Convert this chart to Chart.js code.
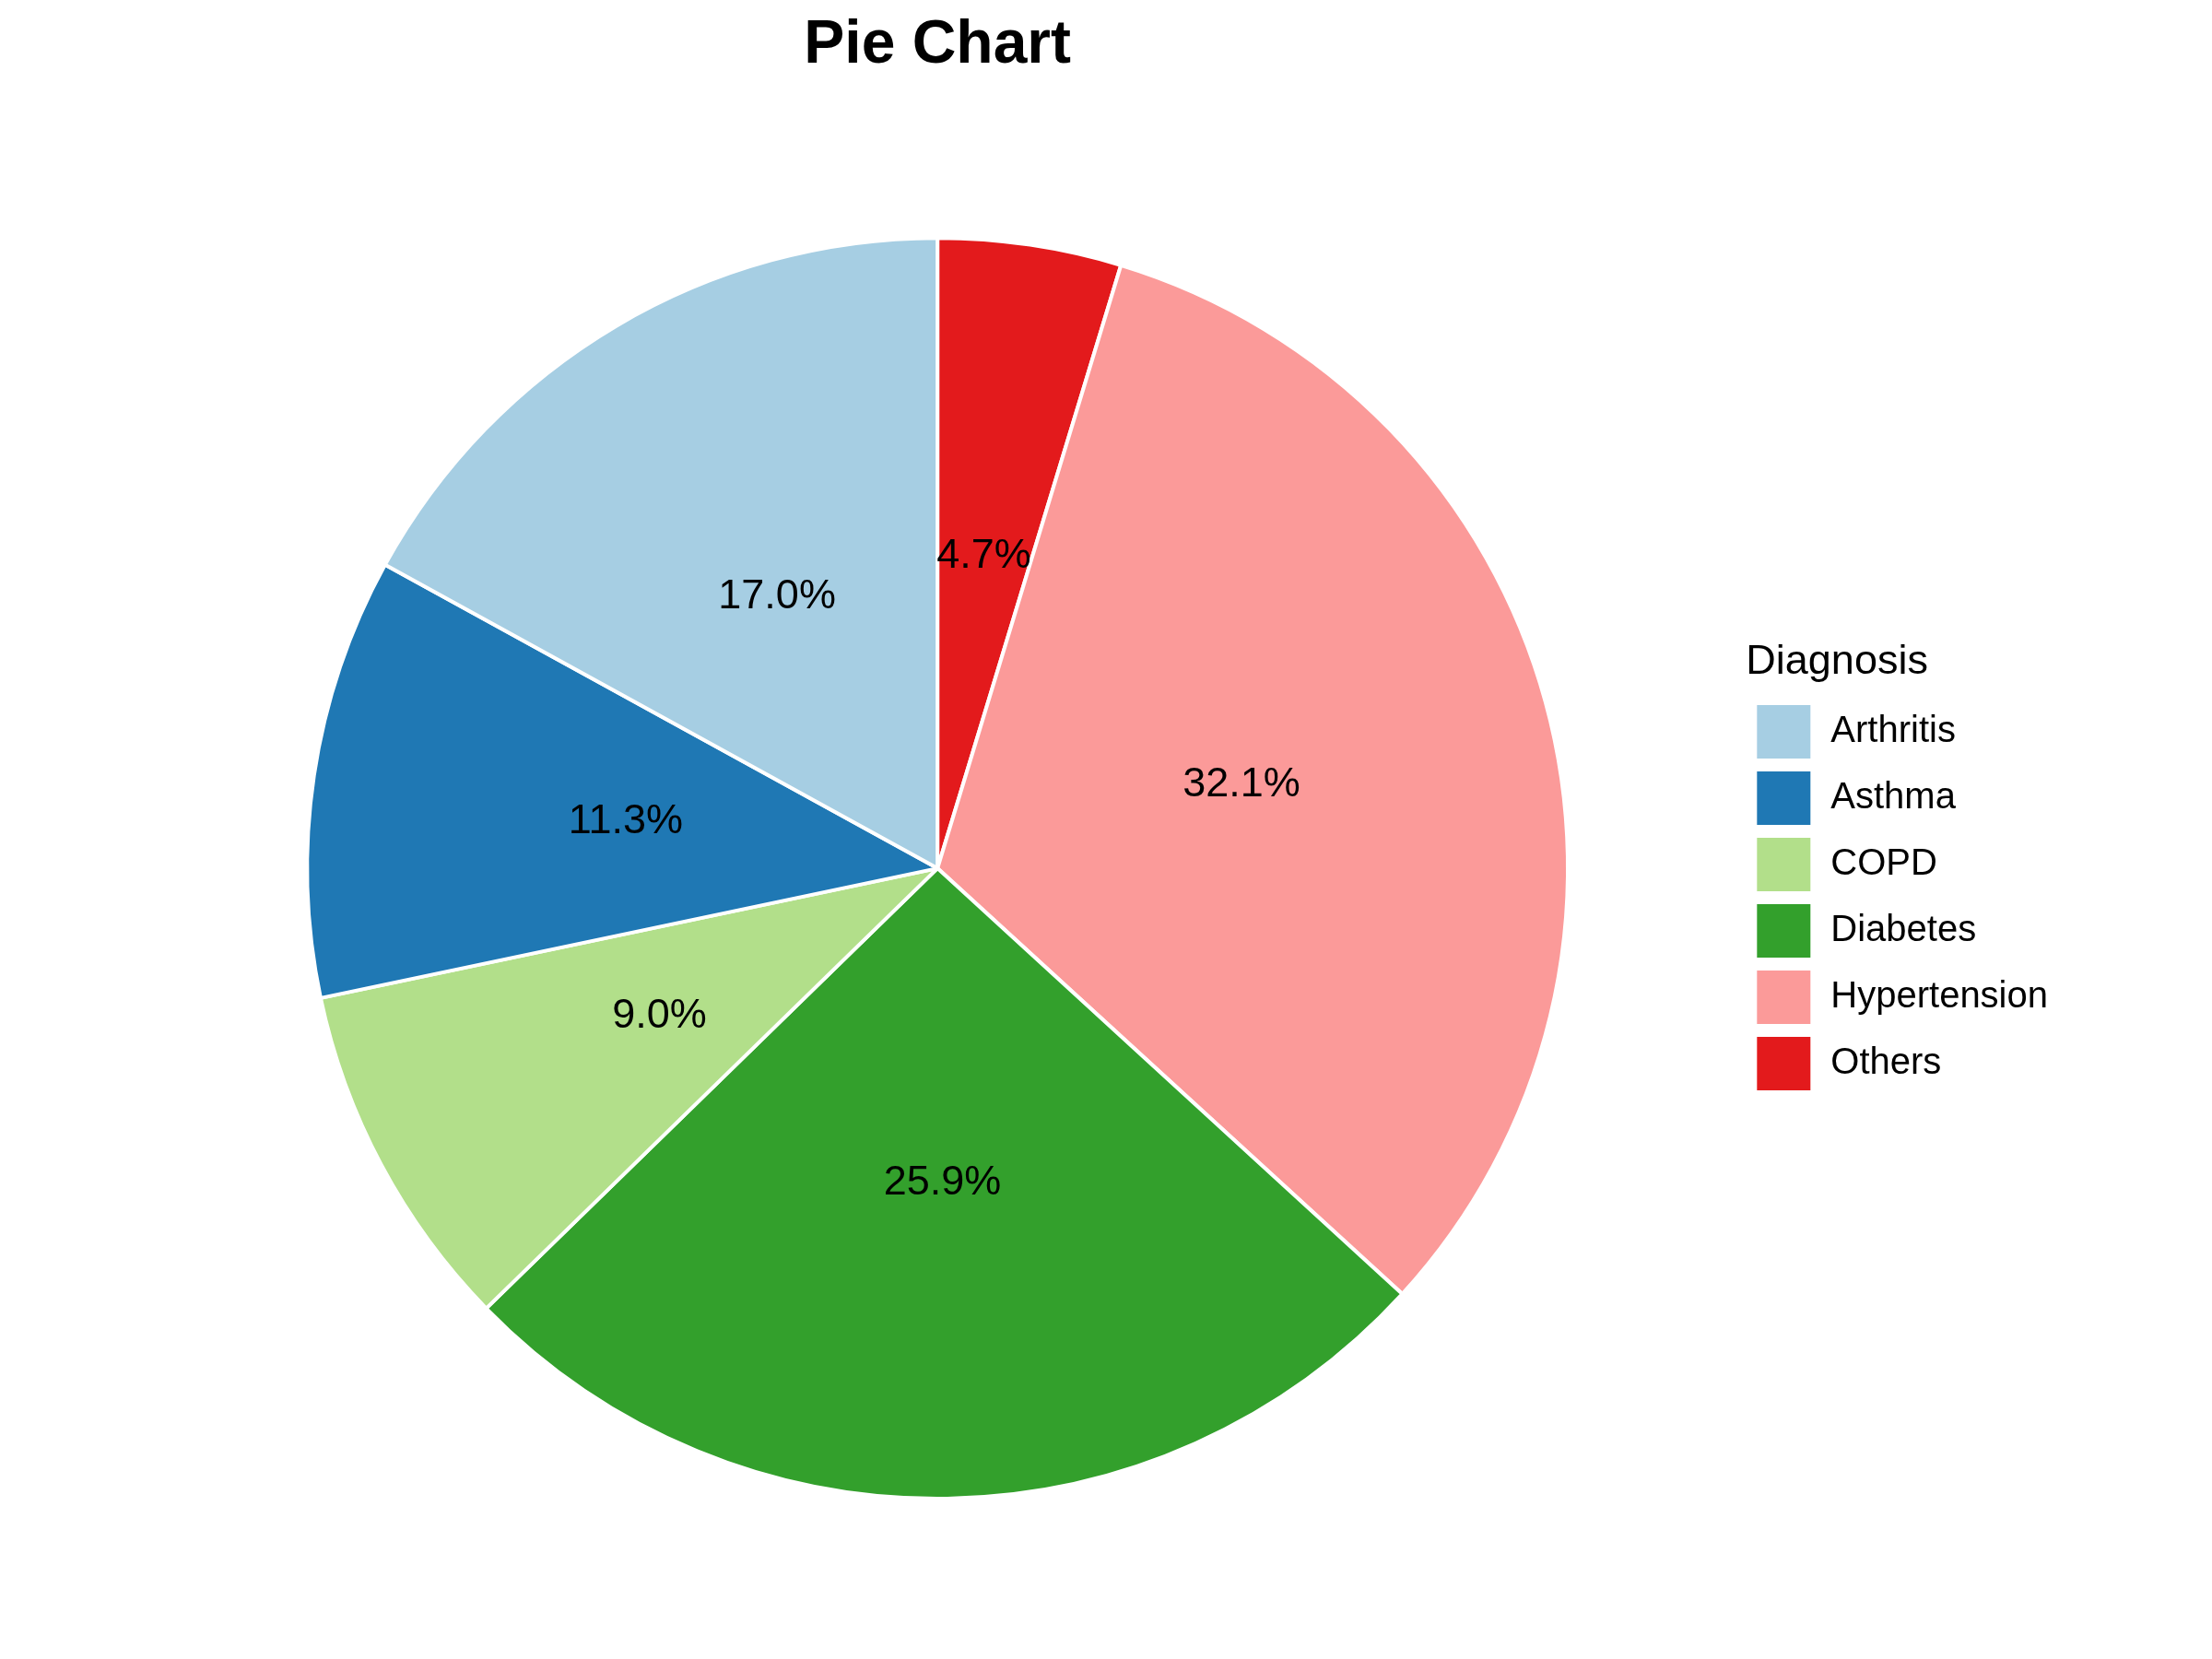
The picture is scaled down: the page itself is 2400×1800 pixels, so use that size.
<!DOCTYPE html>
<html>
<head>
<meta charset="utf-8">
<script src="https://cdn.jsdelivr.net/npm/chart.js@4.4.1/dist/chart.umd.min.js"></script>
<style>
  html, body { margin: 0; padding: 0; background: #ffffff; }
  #wrap { width: 2400px; height: 1800px; position: relative; }
</style>
</head>
<body>
<div id="wrap"><canvas id="pieChart"></canvas></div>
<script>
// Diagnosis shares (percent), legend order
var categories = ['Arthritis', 'Asthma', 'COPD', 'Diabetes', 'Hypertension', 'Others'];
var shares = [17.0, 11.3, 9.0, 25.9, 32.1, 4.7];
var sliceColors = ['#A6CEE3', '#1F78B4', '#B2DF8A', '#33A02C', '#FB9A99', '#E31A1C'];

// slices run counter-clockwise from 12 o'clock in the reference,
// Chart.js goes clockwise, so feed the data reversed
var pieLabels = categories.slice().reverse();
var pieData = shares.slice().reverse();
var pieColors = sliceColors.slice().reverse();

var fontFamily = '"Liberation Sans", Arial, Helvetica, sans-serif';

// percent text in the middle of each slice
var sliceLabels = {
    id: 'sliceLabels',
    afterDatasetsDraw: function(chart) {
        var ctx = chart.ctx;
        var meta = chart.getDatasetMeta(0);
        ctx.save();
        ctx.font = '45px ' + fontFamily;
        ctx.fillStyle = '#000000';
        ctx.textAlign = 'center';
        ctx.textBaseline = 'middle';
        meta.data.forEach(function(arc, i) {
            var p = arc.getCenterPoint();
            ctx.fillText(pieData[i].toFixed(1) + '%', p.x, p.y);
        });
        ctx.restore();
    }
};

var ctx = document.getElementById('pieChart').getContext('2d');
var pieChart = new Chart(ctx, {
    type: 'pie',
    data: {
        labels: pieLabels,
        datasets: [{
            label: 'Diagnosis',
            data: pieData,
            backgroundColor: pieColors,
            borderColor: '#ffffff',
            borderWidth: 4
        }]
    },
    options: {
        responsive: true,
        maintainAspectRatio: false,
        devicePixelRatio: 1,
        animation: false,
        layout: {
            padding: { left: 140, right: 168, top: 10, bottom: 172 }
        },
        plugins: {
            title: {
                display: true,
                fullSize: false,
                text: 'Pie Chart',
                color: '#000000',
                font: { family: fontFamily, size: 66, weight: 'bold' },
                padding: { top: 0, bottom: 167 }
            },
            legend: {
                position: 'right',
                fullSize: false,
                reverse: true,
                title: {
                    display: true,
                    text: 'Diagnosis',
                    color: '#000000',
                    position: 'start',
                    font: { family: fontFamily, size: 45 },
                    padding: { top: 7, bottom: 3 }
                },
                labels: {
                    color: '#000000',
                    font: { family: fontFamily, size: 40 },
                    boxWidth: 62,
                    boxHeight: 62,
                    padding: 10
                }
            },
            tooltip: { enabled: false }
        }
    },
    plugins: [sliceLabels]
});
</script>
</body>
</html>
